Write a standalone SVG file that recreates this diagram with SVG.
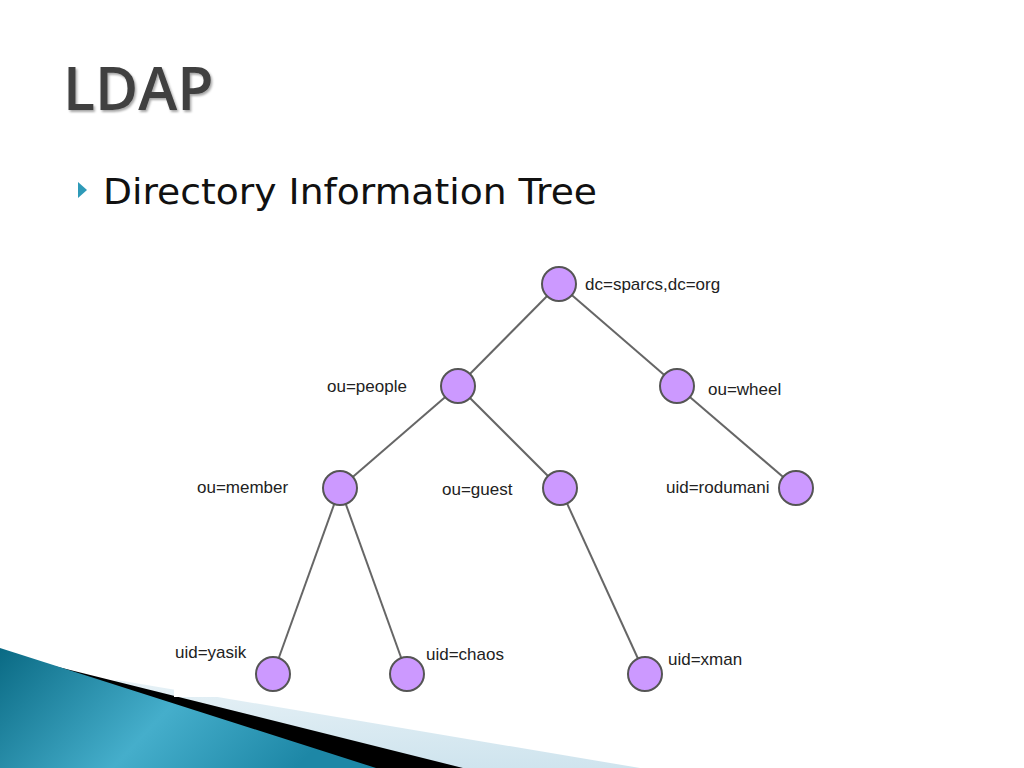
<svg xmlns="http://www.w3.org/2000/svg" width="1024" height="768" viewBox="0 0 1024 768">
<defs>
<linearGradient id="teal" x1="0" y1="0" x2="1" y2="0.3">
<stop offset="0" stop-color="#0a6a84"/>
<stop offset="0.55" stop-color="#45aecb"/>
<stop offset="1" stop-color="#1d87a6"/>
</linearGradient>
<linearGradient id="lb" x1="0" y1="0" x2="0" y2="1">
<stop offset="0" stop-color="#e6f1f6"/>
<stop offset="1" stop-color="#cfe4ee"/>
</linearGradient>
<filter id="sh" x="-10%" y="-10%" width="130%" height="130%">
<feDropShadow dx="1.5" dy="2" stdDeviation="1" flood-color="#000" flood-opacity="0.35"/>
</filter>
</defs>
<style>
.edge{stroke:#666;stroke-width:2;fill:none}
.node{fill:#cc99ff;stroke:#555;stroke-width:2}
.lbl{font-family:"Liberation Sans",Arial,sans-serif;font-size:17px;fill:#222}
</style>
<rect width="1024" height="768" fill="#fff"/>
<g id="decoration">
<polygon points="117,680 640,768 0,768 0,700" fill="url(#lb)"/>
<polygon points="30,660 463,768 0,768 0,650" fill="#000"/>
<polygon points="0,648 376,768 0,768" fill="url(#teal)"/>
<rect x="174" y="640" width="500" height="57" fill="#fff"/>
</g>
<g id="title">
<text x="63" y="110" font-family="'Open Sans','Liberation Sans',sans-serif" font-weight="600" font-size="59" fill="#404040" filter="url(#sh)">LDAP</text>
</g>
<g id="bullet">
<polygon points="78,182 78,198 87,190" fill="#2e9ab8"/>
<text x="103" y="204" font-family="'DejaVu Sans',Verdana,sans-serif" font-size="36" fill="#111" textLength="494" lengthAdjust="spacingAndGlyphs">Directory Information Tree</text>
</g>
<g id="connectors">
<line class="edge" x1="559" y1="284" x2="458" y2="386"/>
<line class="edge" x1="559" y1="284" x2="677" y2="386"/>
<line class="edge" x1="458" y1="386" x2="340" y2="488"/>
<line class="edge" x1="458" y1="386" x2="560" y2="488"/>
<line class="edge" x1="677" y1="386" x2="796" y2="488"/>
<line class="edge" x1="340" y1="488" x2="273" y2="674"/>
<line class="edge" x1="340" y1="488" x2="407" y2="674"/>
<line class="edge" x1="560" y1="488" x2="645" y2="674"/>
</g>
<g id="n-root"><circle class="node" cx="559" cy="284" r="17"/><text class="lbl" x="585" y="290">dc=sparcs,dc=org</text></g>
<g id="n-people"><circle class="node" cx="458" cy="386" r="17"/><text class="lbl" x="327" y="392">ou=people</text></g>
<g id="n-wheel"><circle class="node" cx="677" cy="386" r="17"/><text class="lbl" x="708" y="395">ou=wheel</text></g>
<g id="n-member"><circle class="node" cx="340" cy="488" r="17"/><text class="lbl" x="197" y="493">ou=member</text></g>
<g id="n-guest"><circle class="node" cx="560" cy="488" r="17"/><text class="lbl" x="442" y="495">ou=guest</text></g>
<g id="n-rodumani"><circle class="node" cx="796" cy="488" r="17"/><text class="lbl" x="666" y="493">uid=rodumani</text></g>
<g id="n-yasik"><circle class="node" cx="273" cy="674" r="17"/><text class="lbl" x="175" y="658">uid=yasik</text></g>
<g id="n-chaos"><circle class="node" cx="407" cy="674" r="17"/><text class="lbl" x="426" y="660">uid=chaos</text></g>
<g id="n-xman"><circle class="node" cx="645" cy="674" r="17"/><text class="lbl" x="668" y="665">uid=xman</text></g>
</svg>
